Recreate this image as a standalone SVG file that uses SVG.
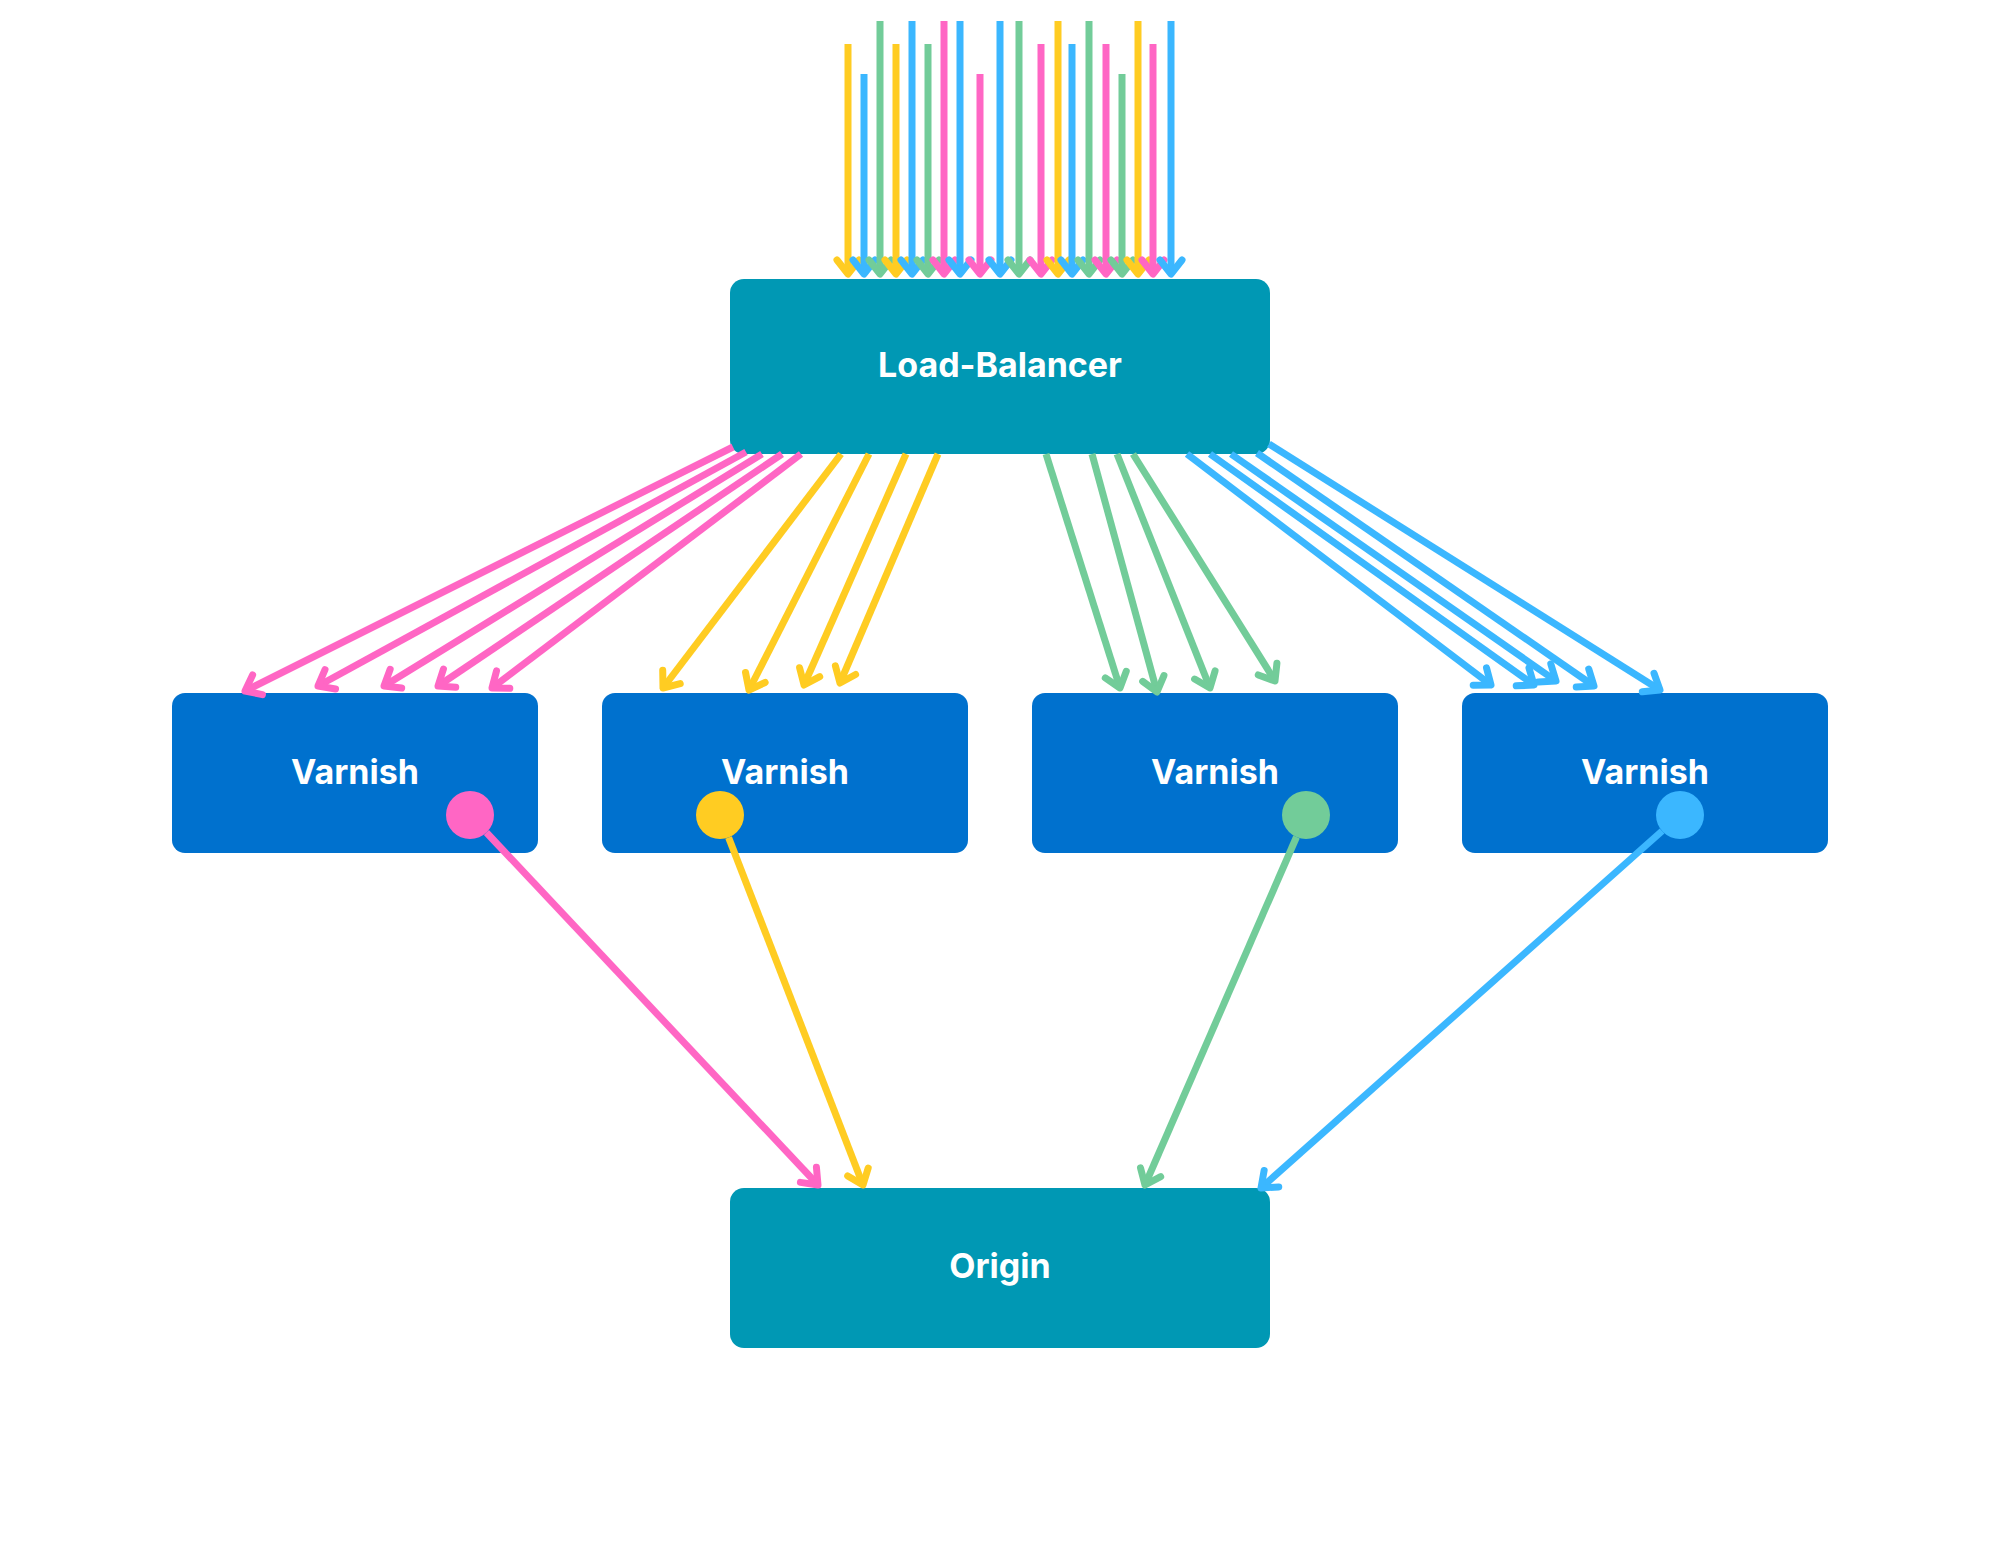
<svg xmlns="http://www.w3.org/2000/svg" width="2000" height="1545" viewBox="0 0 2000 1545">
<style>
.bg{fill:#ffffff}
.teal{fill:#0098b4}
.var{fill:#0071ce}
.lbl{fill:#ffffff;font-family:Inter,"Liberation Sans",sans-serif;font-weight:700;font-size:34px;text-anchor:middle}
.c{fill:none;stroke-width:7;stroke-linecap:butt}
.pk{stroke:#ff66c4}
.yl{stroke:#ffcc22}
.gr{stroke:#72cc99}
.bl{stroke:#3bb7ff}
.h{fill:none;stroke-width:7;stroke-linecap:round;stroke-linejoin:round}
.fpk{fill:#ff66c4}
.fyl{fill:#ffcc22}
.fgr{fill:#72cc99}
.fbl{fill:#3bb7ff}
</style>
<defs>
<marker id="mpk" markerUnits="userSpaceOnUse" orient="auto" refX="0" refY="0" markerWidth="40" markerHeight="40" viewBox="-20 -20 40 40" overflow="visible"><path class="h pk" d="M-14,-11 L0,0 L-14,11"/></marker>
<marker id="myl" markerUnits="userSpaceOnUse" orient="auto" refX="0" refY="0" markerWidth="40" markerHeight="40" viewBox="-20 -20 40 40" overflow="visible"><path class="h yl" d="M-14,-11 L0,0 L-14,11"/></marker>
<marker id="mgr" markerUnits="userSpaceOnUse" orient="auto" refX="0" refY="0" markerWidth="40" markerHeight="40" viewBox="-20 -20 40 40" overflow="visible"><path class="h gr" d="M-14,-11 L0,0 L-14,11"/></marker>
<marker id="mbl" markerUnits="userSpaceOnUse" orient="auto" refX="0" refY="0" markerWidth="40" markerHeight="40" viewBox="-20 -20 40 40" overflow="visible"><path class="h bl" d="M-14,-11 L0,0 L-14,11"/></marker>
</defs>
<rect class="bg" x="0" y="0" width="2000" height="1545"/>

<g id="load-balancer">
<rect class="teal" x="730" y="279" width="540" height="175" rx="14"/>
<text class="lbl" x="1000" y="377">Load-Balancer</text>
</g>
<g id="varnish-1">
<rect class="var" x="172" y="693" width="366" height="160" rx="13"/>
<text class="lbl" x="355" y="784">Varnish</text>
<circle class="fpk" cx="470" cy="815" r="24"/>
</g>
<g id="varnish-2">
<rect class="var" x="602" y="693" width="366" height="160" rx="13"/>
<text class="lbl" x="785" y="784">Varnish</text>
<circle class="fyl" cx="720" cy="815" r="24"/>
</g>
<g id="varnish-3">
<rect class="var" x="1032" y="693" width="366" height="160" rx="13"/>
<text class="lbl" x="1215" y="784">Varnish</text>
<circle class="fgr" cx="1306" cy="815" r="24"/>
</g>
<g id="varnish-4">
<rect class="var" x="1462" y="693" width="366" height="160" rx="13"/>
<text class="lbl" x="1645" y="784">Varnish</text>
<circle class="fbl" cx="1680" cy="815" r="24"/>
</g>
<g id="origin">
<rect class="teal" x="730" y="1188" width="540" height="160" rx="14"/>
<text class="lbl" x="1000" y="1278">Origin</text>
</g>

<g id="connectors">
<!-- incoming -->
<line class="c yl" x1="848" y1="44" x2="848" y2="274" marker-end="url(#myl)"/>
<line class="c bl" x1="864" y1="74" x2="864" y2="274" marker-end="url(#mbl)"/>
<line class="c gr" x1="880" y1="21" x2="880" y2="274" marker-end="url(#mgr)"/>
<line class="c yl" x1="896" y1="44" x2="896" y2="274" marker-end="url(#myl)"/>
<line class="c bl" x1="912" y1="21" x2="912" y2="274" marker-end="url(#mbl)"/>
<line class="c gr" x1="928" y1="44" x2="928" y2="274" marker-end="url(#mgr)"/>
<line class="c pk" x1="944" y1="21" x2="944" y2="274" marker-end="url(#mpk)"/>
<line class="c bl" x1="960" y1="21" x2="960" y2="274" marker-end="url(#mbl)"/>
<line class="c pk" x1="980" y1="74" x2="980" y2="274" marker-end="url(#mpk)"/>
<line class="c bl" x1="1000" y1="21" x2="1000" y2="274" marker-end="url(#mbl)"/>
<line class="c gr" x1="1019" y1="21" x2="1019" y2="274" marker-end="url(#mgr)"/>
<line class="c pk" x1="1041" y1="44" x2="1041" y2="274" marker-end="url(#mpk)"/>
<line class="c yl" x1="1058" y1="21" x2="1058" y2="274" marker-end="url(#myl)"/>
<line class="c bl" x1="1072" y1="44" x2="1072" y2="274" marker-end="url(#mbl)"/>
<line class="c gr" x1="1089" y1="21" x2="1089" y2="274" marker-end="url(#mgr)"/>
<line class="c pk" x1="1106" y1="44" x2="1106" y2="274" marker-end="url(#mpk)"/>
<line class="c gr" x1="1122" y1="74" x2="1122" y2="274" marker-end="url(#mgr)"/>
<line class="c yl" x1="1138" y1="21" x2="1138" y2="274" marker-end="url(#myl)"/>
<line class="c pk" x1="1153" y1="44" x2="1153" y2="274" marker-end="url(#mpk)"/>
<line class="c bl" x1="1171" y1="21" x2="1171" y2="274" marker-end="url(#mbl)"/>
<!-- LB to Varnish 1 -->
<line class="c pk" x1="733" y1="447" x2="245" y2="691" marker-end="url(#mpk)"/>
<line class="c pk" x1="746" y1="452" x2="318" y2="686" marker-end="url(#mpk)"/>
<line class="c pk" x1="762" y1="454" x2="384" y2="686" marker-end="url(#mpk)"/>
<line class="c pk" x1="782" y1="454" x2="438" y2="686" marker-end="url(#mpk)"/>
<line class="c pk" x1="801" y1="454" x2="492" y2="688" marker-end="url(#mpk)"/>
<!-- LB to Varnish 2 -->
<line class="c yl" x1="841" y1="454" x2="663" y2="688" marker-end="url(#myl)"/>
<line class="c yl" x1="869" y1="454" x2="749" y2="690" marker-end="url(#myl)"/>
<line class="c yl" x1="906" y1="454" x2="804" y2="685" marker-end="url(#myl)"/>
<line class="c yl" x1="938" y1="454" x2="840" y2="683" marker-end="url(#myl)"/>
<!-- LB to Varnish 3 -->
<line class="c gr" x1="1046" y1="454" x2="1120" y2="688" marker-end="url(#mgr)"/>
<line class="c gr" x1="1092" y1="454" x2="1157" y2="692" marker-end="url(#mgr)"/>
<line class="c gr" x1="1117" y1="454" x2="1210" y2="688" marker-end="url(#mgr)"/>
<line class="c gr" x1="1133" y1="454" x2="1275" y2="681" marker-end="url(#mgr)"/>
<!-- LB to Varnish 4 -->
<line class="c bl" x1="1187" y1="454" x2="1491" y2="685" marker-end="url(#mbl)"/>
<line class="c bl" x1="1210" y1="454" x2="1534" y2="685" marker-end="url(#mbl)"/>
<line class="c bl" x1="1231" y1="454" x2="1556" y2="681" marker-end="url(#mbl)"/>
<line class="c bl" x1="1257" y1="453" x2="1594" y2="686" marker-end="url(#mbl)"/>
<line class="c bl" x1="1269" y1="444" x2="1660" y2="690" marker-end="url(#mbl)"/>
<!-- Varnish to Origin -->
<line class="c pk" x1="486.4" y1="832.5" x2="818" y2="1185" marker-end="url(#mpk)"/>
<line class="c yl" x1="728.6" y1="837.4" x2="863" y2="1185" marker-end="url(#myl)"/>
<line class="c gr" x1="1296.5" y1="837" x2="1145" y2="1185" marker-end="url(#mgr)"/>
<line class="c bl" x1="1662.1" y1="831" x2="1261" y2="1188" marker-end="url(#mbl)"/>
</g>
</svg>
